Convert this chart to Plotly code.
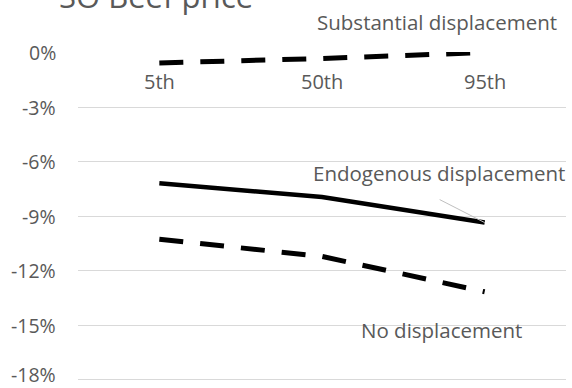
import plotly.graph_objects as go

# Percentile groups on the category axis
categories = ["5th", "50th", "95th"]

# Change in price (%) for each displacement scenario
substantial = [-0.57, -0.33, 0.0]
endogenous = [-7.2, -7.95, -9.36]
no_displacement = [-10.28, -11.22, -13.17]

y_ticks = [0, -3, -6, -9, -12, -15, -18]
y_tick_labels = [f"{v}%" for v in y_ticks]
title_text = "SO Beef price"

FONT = "Open Sans, Calibri, sans-serif"
GREY = "#595959"
GRID = "#d9d9d9"

Y_MIN, Y_MAX = -18.08, 0.03

xs = list(range(len(categories)))


def to_paper_y(v):
    return (v - Y_MIN) / (Y_MAX - Y_MIN)


fig = go.Figure()

fig.add_trace(go.Scatter(
    x=xs, y=substantial, mode="lines", name="Substantial displacement",
    line=dict(color="black", width=5, dash="24px,17px"), cliponaxis=False,
))
fig.add_trace(go.Scatter(
    x=xs, y=endogenous, mode="lines", name="Endogenous displacement",
    line=dict(color="black", width=4.5), cliponaxis=False,
))
fig.add_trace(go.Scatter(
    x=xs, y=no_displacement, mode="lines", name="No displacement",
    line=dict(color="black", width=5, dash="24px,17px"), cliponaxis=False,
))

annotations = []

# Value labels to the left of the gridlines; the lowest one is nudged up
# so it stays inside the page
for v, label in zip(y_ticks, y_tick_labels):
    annotations.append(dict(
        x=0, y=to_paper_y(v), xref="paper", yref="paper", text=label,
        showarrow=False, xanchor="right", yanchor="middle", xshift=-21,
        yshift=5 if v == y_ticks[-1] else 0, borderpad=0,
        font=dict(family=FONT, size=19.5, color=GREY),
    ))

# Category labels sit just under the 0% line
for x, label in zip(xs, categories):
    annotations.append(dict(
        x=x, y=to_paper_y(0), xref="x", yref="paper", text=label, showarrow=False,
        yanchor="top", yshift=-13, font=dict(family=FONT, size=20, color=GREY),
    ))

# Series labels
series_labels = [
    ("Substantial displacement", 1.707, 1.7),
    ("Endogenous displacement", 1.722, -6.65),
    ("No displacement", 1.736, -15.25),
]
for text, lx, ly in series_labels:
    annotations.append(dict(
        x=lx, y=to_paper_y(ly), xref="x", yref="paper", text=text, showarrow=False,
        xanchor="center", yanchor="middle",
        font=dict(family=FONT, size=20.5, color=GREY),
    ))

# Chart title, partly above the visible page
annotations.append(dict(
    x=-0.043, y=1, xref="paper", yref="paper", text=title_text, showarrow=False,
    xanchor="left", yanchor="bottom", yshift=33,
    font=dict(family=FONT, size=31, color=GREY),
))

fig.update_layout(
    width=572, height=388,
    margin=dict(l=78, r=6, t=52, b=7),
    paper_bgcolor="white", plot_bgcolor="white",
    showlegend=False,
    annotations=annotations,
    shapes=[dict(
        type="line", xref="x", yref="y",
        xsizemode="pixel", ysizemode="pixel",
        xanchor=xs[-1], yanchor=endogenous[-1],
        x0=-45, y0=23, x1=0, y1=0,
        line=dict(color="#bfbfbf", width=1),
    )],
    xaxis=dict(
        range=[-0.5, len(categories) - 0.5], showgrid=False, zeroline=False,
        showticklabels=False, showline=False, automargin=False,
    ),
    yaxis=dict(
        range=[Y_MIN, Y_MAX], tickmode="array", tickvals=y_ticks,
        showticklabels=False,
        showgrid=True, gridcolor=GRID, gridwidth=1,
        zeroline=False, showline=False, ticks="", automargin=False,
    ),
)

fig.write_html("out.html")
